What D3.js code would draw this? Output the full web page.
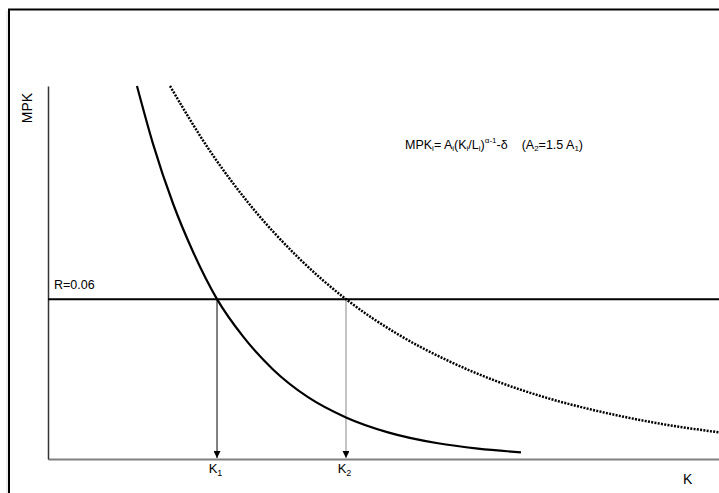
<!DOCTYPE html>
<html>
<head>
<meta charset="utf-8">
<script src="https://cdn.jsdelivr.net/npm/d3@7"></script>
<style>
body{margin:0;background:#fff;}
text{font-family:"Liberation Sans",Arial,sans-serif;fill:#000;}
</style>
</head>
<body>
<script>
// curve points (K, MPK)
var curve1K   = [1.326, 1.565, 1.863, 2.161, 2.519, 2.906, 3.353, 3.875, 4.441, 5.067, 5.812, 6.408, 7.049];
var curve1MPK = [0.1400, 0.1183, 0.0959, 0.0778, 0.0600, 0.0460, 0.0336, 0.0232, 0.0156, 0.0100, 0.0059, 0.0039, 0.0025];
var curve2K   = [1.818, 2.385, 2.981, 3.726, 4.441, 5.216, 5.961, 6.706, 7.452, 8.227, 9.091, 10.0];
var curve2MPK = [0.1400, 0.1167, 0.0963, 0.0757, 0.0600, 0.0468, 0.0369, 0.0290, 0.0228, 0.0178, 0.0134, 0.0100];
var rate = 0.06;
var kTicks = [2.519, 4.441];
var kTickLabels = [["K","1"],["K","2"]];

var W = 719, H = 493;
var margin = {top:86, bottom:34, left:48, right:0};

var svg = d3.select("body").append("svg").attr("width",W).attr("height",H);

// frame
svg.append("line").attr("x1",7).attr("x2",7).attr("y1",11).attr("y2",H).attr("stroke","#ddd").attr("stroke-width",1);
svg.append("path").attr("d","M9,"+H+"V9.5H"+W).attr("fill","none").attr("stroke","#000").attr("stroke-width",2);

var x = d3.scaleLinear().domain([0,10]).range([margin.left, W - margin.right]);
var y = d3.scaleLinear().domain([0,0.14]).range([H - margin.bottom, margin.top]);

var defs = svg.append("defs");
defs.append("marker").attr("id","arr").attr("viewBox","0 0 10 10")
    .attr("refX",10).attr("refY",5).attr("markerWidth",8).attr("markerHeight",7)
    .attr("markerUnits","userSpaceOnUse").attr("orient","auto")
    .append("path").attr("d","M0,0L10,5L0,10Z").attr("fill","#000");

// axes
var xAxis = svg.append("g").attr("transform","translate(0,"+y(0)+")")
    .call(d3.axisBottom(x).tickValues(kTicks).tickSize(0).tickSizeOuter(0).tickFormat(""));
xAxis.select(".domain").attr("stroke","#808080").attr("stroke-width",2);
xAxis.selectAll(".tick text").remove();
xAxis.selectAll(".tick").each(function(d,i){
    var t = d3.select(this).append("text").attr("text-anchor","middle").attr("y",14).attr("font-size",13).attr("dx",-2);
    t.append("tspan").text(kTickLabels[i][0]);
    t.append("tspan").attr("font-size",9).attr("dy",3).text(kTickLabels[i][1]);
});

var yAxis = svg.append("g").attr("transform","translate("+x(0)+",0)")
    .call(d3.axisLeft(y).tickValues([]).tickSizeOuter(0));
yAxis.select(".domain").attr("stroke","#333").attr("stroke-width",1.5);

svg.append("text").attr("x",683).attr("y",484).attr("font-size",14).text("K");
svg.append("text").attr("transform","translate(32,108) rotate(-90)").attr("text-anchor","middle")
    .attr("font-size",14).text("MPK");

// interest rate line
svg.append("line").attr("x1",x(0)).attr("x2",W).attr("y1",y(rate)).attr("y2",y(rate))
    .attr("stroke","#000").attr("stroke-width",2);
svg.append("text").attr("x",54).attr("y",y(rate)-10).attr("font-size",12.5).text("R=0.06");

// drop arrows
kTicks.forEach(function(k,i){
    svg.append("line").attr("x1",x(k)).attr("x2",x(k)).attr("y1",y(rate)).attr("y2",y(0)-1)
        .attr("stroke", i==0 ? "#000" : "#888").attr("stroke-width",1)
        .attr("marker-end","url(#arr)");
});

var line = d3.line().x(function(d){return x(d[0]);}).y(function(d){return y(d[1]);})
    .curve(d3.curveMonotoneX);

svg.append("path").datum(d3.zip(curve1K,curve1MPK)).attr("d",line)
    .attr("fill","none").attr("stroke","#000").attr("stroke-width",2.2);
svg.append("path").datum(d3.zip(curve2K,curve2MPK)).attr("d",line)
    .attr("fill","none").attr("stroke","#000").attr("stroke-width",2.5).attr("stroke-dasharray","2,1.3");

// formula
var f = svg.append("text").attr("x",405).attr("y",149).attr("font-size",12.5);
f.append("tspan").text("MPK");
f.append("tspan").attr("font-size",8).attr("dy",2).text("i");
f.append("tspan").attr("dy",-2).text("= A");
f.append("tspan").attr("font-size",8).attr("dy",2).text("i");
f.append("tspan").attr("dy",-2).text("(K");
f.append("tspan").attr("font-size",8).attr("dy",2).text("i");
f.append("tspan").attr("dy",-2).text("/L");
f.append("tspan").attr("font-size",8).attr("dy",2).text("i");
f.append("tspan").attr("dy",-2).text(")");
f.append("tspan").attr("font-size",8).attr("dy",-6).text("α-1");
f.append("tspan").attr("dy",6).text("-δ");
f.append("tspan").attr("dx",14).text("(A");
f.append("tspan").attr("font-size",8).attr("dy",2).text("2");
f.append("tspan").attr("dy",-2).text("=1.5 A");
f.append("tspan").attr("font-size",8).attr("dy",2).text("1");
f.append("tspan").attr("dy",-2).text(")");
</script>
</body>
</html>
